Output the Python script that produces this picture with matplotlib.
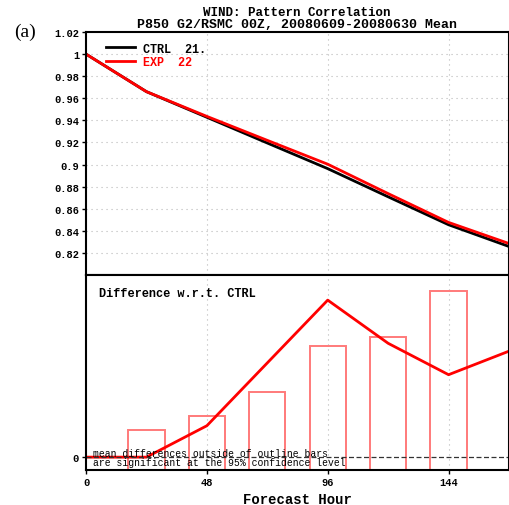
import numpy as np
import matplotlib.pyplot as plt

# forecast hours and pattern correlation of the 850 hPa wind
hours = [0, 24, 48, 72, 96, 120, 144, 168]
ctrl = [1.0, 0.9660, 0.9428, 0.9195, 0.8963, 0.8708, 0.8455, 0.8258]
exp = [1.0, 0.9660, 0.9436, 0.9219, 0.9003, 0.8737, 0.8476, 0.8285]

# 95% significance thresholds (outline bars)
bar_hours = [24, 48, 72, 96, 120, 144]
sig_bars = [0.0007, 0.00104, 0.00167, 0.00282, 0.00306, 0.00423]

legend_labels = ['CTRL  21.', 'EXP  22']
top_ticks = [0.82, 0.84, 0.86, 0.88, 0.9, 0.92, 0.94, 0.96, 0.98, 1, 1.02]
top_ticklabels = ['0.82', '0.84', '0.86', '0.88', '0.9', '0.92', '0.94',
                  '0.96', '0.98', '1', '1.02']
x_ticks = [0, 48, 96, 144]

mono = 'Liberation Mono'
grid_kw = dict(color='#b8b8b8', linestyle=(0, (1, 3.5)), linewidth=0.8)

diff = np.array(exp) - np.array(ctrl)

fig = plt.figure(figsize=(5.1, 5.06), dpi=100)
ax1 = fig.add_axes([86 / 510, 1 - 276 / 506, 423 / 510, 243 / 506])
ax2 = fig.add_axes([86 / 510, 1 - 470.7 / 506, 423 / 510, 194.7 / 506])

# upper panel: correlation curves
ax1.plot(hours, ctrl, color='black', linewidth=2, label=legend_labels[0])
ax1.plot(hours, exp, color='red', linewidth=2, label=legend_labels[1])
ax1.set_xlim(0, 168)
ax1.set_ylim(0.80, 1.02)
ax1.set_yticks(top_ticks)
ax1.set_yticklabels(top_ticklabels)
ax1.set_xticks([])
for y in top_ticks[:-1]:
    ax1.axhline(y, zorder=0, **grid_kw)
for x in x_ticks[1:]:
    ax1.axvline(x, zorder=0, **grid_kw)
leg = ax1.legend(loc='upper left', bbox_to_anchor=(0.022, 1.0), frameon=False,
                 handlelength=2.5, handletextpad=0.6, labelspacing=0.15,
                 prop={'family': mono, 'weight': 'bold', 'size': 8.5},
                 labelcolor=['black', 'red'])

# lower panel: difference and significance bars
ax2.bar(bar_hours, np.array(sig_bars) + 0.001, bottom=-0.001, width=14.4,
        facecolor='none', edgecolor='#ff7a7a', linewidth=1.4)
ax2.plot(hours, diff, color='red', linewidth=2)
ax2.axhline(0, color='#333333', linestyle=(0, (4, 2)), linewidth=0.9)
for x in x_ticks[1:]:
    ax2.axvline(x, zorder=0, **grid_kw)
ax2.set_xlim(0, 168)
ax2.set_ylim(-0.00032, 0.00464)
ax2.set_yticks([0])
ax2.set_yticklabels(['0'])
ax2.set_xticks(x_ticks)
ax2.set_xlabel('Forecast Hour', family=mono, weight='bold', fontsize=10,
               labelpad=4)
ax2.text(0.03, 0.91, 'Difference w.r.t. CTRL', transform=ax2.transAxes,
         family=mono, weight='bold', fontsize=8.6, va='center')
ax2.text(0.017, 0.085, 'mean differences outside of outline bars',
         transform=ax2.transAxes, family=mono, fontsize=7, va='center')
ax2.text(0.017, 0.038, 'are significant at the 95% confidence level',
         transform=ax2.transAxes, family=mono, fontsize=7, va='center')

for ax in (ax1, ax2):
    for s in ax.spines.values():
        s.set_linewidth(1.5)
    ax.tick_params(direction='out', length=3, width=1, pad=2)
    for lab in ax.get_xticklabels() + ax.get_yticklabels():
        lab.set_family(mono)
        lab.set_weight('bold')
        lab.set_fontsize(7.5)

fig.text(297 / 510, 1 - 13 / 506, 'WIND: Pattern Correlation',
         family=mono, weight='bold', fontsize=9, ha='center', va='center')
fig.text(297 / 510, 1 - 25 / 506, 'P850 G2/RSMC 00Z, 20080609-20080630 Mean',
         family=mono, weight='bold', fontsize=9.5, ha='center', va='center')
fig.text(25 / 510, 1 - 32 / 506, '(a)', family='Liberation Serif',
         fontsize=14, ha='center', va='center')

fig.savefig('out.png', dpi=100)
